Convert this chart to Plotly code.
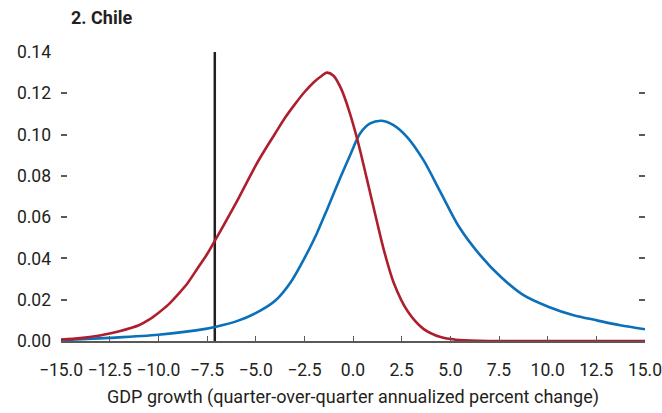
import plotly.graph_objects as go

# Red density (x: GDP growth, y: density)
red_x = [-15, -14, -13, -12.5, -12, -11, -10.5, -10, -9.5, -9, -8.5, -8, -7.5, -7.1,
         -6.5, -6, -5.5, -5, -4.5, -4, -3.5, -3, -2.5, -2, -1.6, -1.35, -1.0, -0.6,
         -0.2, 0.24, 0.7, 1.2, 1.6, 2.1, 2.8, 3.6, 4.5, 5.3, 6.5, 8, 10, 12.5, 15]
red_y = [0.0007, 0.0014, 0.0027, 0.0036, 0.0047, 0.0076, 0.0102, 0.0136, 0.0175,
         0.0225, 0.028, 0.035, 0.042, 0.0485, 0.0585, 0.067, 0.076, 0.085, 0.093,
         0.1005, 0.108, 0.1145, 0.1205, 0.1255, 0.1285, 0.130, 0.1285, 0.122, 0.1115,
         0.097, 0.079, 0.059, 0.0435, 0.028, 0.0145, 0.006, 0.0019, 0.0006, 0.0001,
         0.0, 0.0, 0.0, 0.0]

# Blue density
blue_x = [-15, -12.5, -10, -7.5, -7.1, -6, -5, -4, -3.2, -2.46, -1.86, -1.32,
          -0.66, -0.15, 0.37, 0.88, 1.48, 2.08, 2.77, 3.62, 4.48, 5.42, 6.53, 7.6,
          8.76, 10.06, 11.33, 12.53, 13.73, 15]
blue_y = [0.0004, 0.0015, 0.003, 0.006, 0.0068, 0.0095, 0.0135, 0.0195, 0.0285,
          0.0407, 0.0521, 0.064, 0.079, 0.090, 0.1006, 0.1054, 0.1067, 0.1046, 0.0989,
          0.0876, 0.0724, 0.0557, 0.0416, 0.031, 0.0222, 0.0165, 0.0125, 0.010,
          0.0076, 0.0057]

# Vertical reference line
vline_x = [-7.1, -7.1]
vline_y = [0.0, 0.14]

x_ticks = [-15, -12.5, -10, -7.5, -5, -2.5, 0, 2.5, 5, 7.5, 10, 12.5, 15]
y_ticks = [0, 0.02, 0.04, 0.06, 0.08, 0.10, 0.12, 0.14]

FONT = "Roboto, Liberation Sans, sans-serif"
TXT = "#231F20"

W, H = 662, 413

fig = go.Figure()
fig.add_trace(go.Scatter(x=vline_x, y=vline_y, mode="lines",
                         line=dict(color="#231F20", width=2.5), showlegend=False,
                         hoverinfo="skip"))
fig.add_trace(go.Scatter(x=blue_x, y=blue_y, mode="lines",
                         line=dict(color="#0B70BA", width=2.6, shape="spline", smoothing=0.8),
                         showlegend=False))
fig.add_trace(go.Scatter(x=red_x, y=red_y, mode="lines",
                         line=dict(color="#AE1F2E", width=2.6, shape="spline", smoothing=0.8),
                         showlegend=False))

fig.update_layout(
    width=W, height=H, autosize=False,
    margin=dict(l=61, r=17, t=52, b=72),
    paper_bgcolor="white", plot_bgcolor="white",
    font=dict(family=FONT, size=17.5, color=TXT),
    title=dict(text="<b>2. Chile</b>", x=71 / W, xref="container", xanchor="left",
               y=1 - 18 / H, yref="container", yanchor="middle",
               font=dict(family=FONT, size=18, color=TXT)),
    xaxis=dict(range=[-15, 15], tickvals=x_ticks, tickformat=".1f", tickangle=0,
               automargin=False, ticklabeloverflow="allow",
               showgrid=False, zeroline=False,
               showline=True, linecolor="#595959", linewidth=1.5,
               ticks="inside", ticklen=5, tickwidth=1.2, tickcolor="#595959",
               ticklabelstandoff=12,
               title=dict(text="GDP growth (quarter-over-quarter annualized percent change)",
                          standoff=12, font=dict(size=18))),
    yaxis=dict(range=[0, 0.14], tickvals=y_ticks, tickformat=".2f", automargin=False,
               showgrid=False, zeroline=False, showline=False,
               ticks="inside", ticklen=6, tickwidth=1.5, tickcolor="#595959",
               mirror="ticks", ticklabelstandoff=9),
)

fig.write_html(
    "out.html",
    config={"displayModeBar": False},
    post_script="document.body.style.margin='0';document.body.style.overflow='hidden';",
)
